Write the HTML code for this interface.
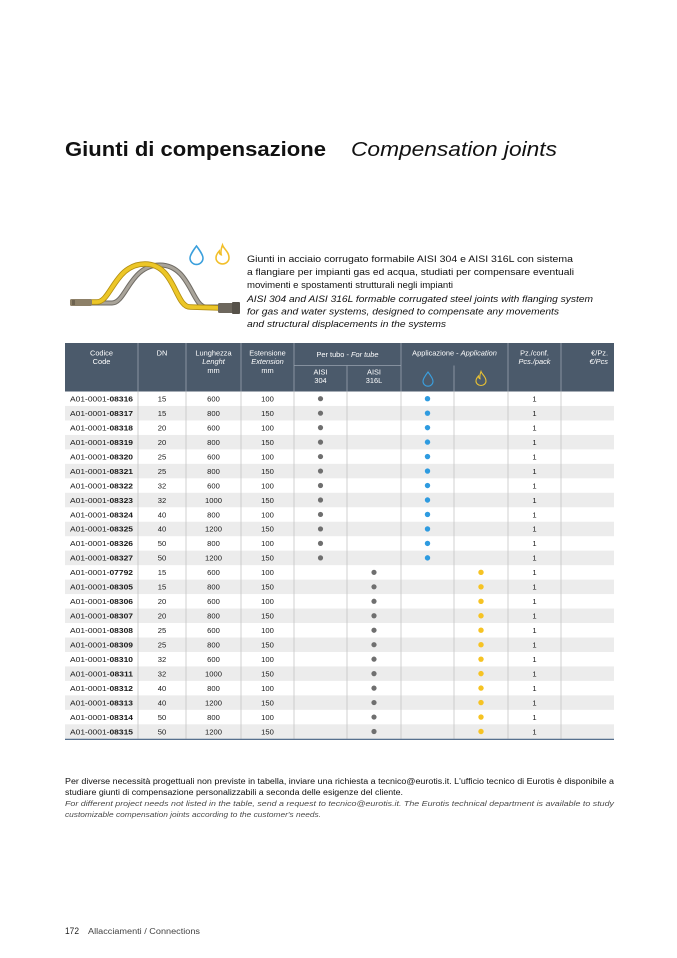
<!DOCTYPE html>
<html>
<head>
<meta charset="utf-8">
<style>
html,body{margin:0;padding:0;background:#fff;}
svg{display:block;}
.t{font-family:"Liberation Sans",sans-serif;}
.c{font-family:"Liberation Sans",sans-serif;font-size:7.6px;fill:#1a1a1a;}
.m{text-anchor:middle;}
.h{font-family:"Liberation Sans",sans-serif;font-size:7.4px;fill:#fff;text-anchor:middle;}
</style>
</head>
<body>
<svg width="677" height="958" viewBox="0 0 677 958" xmlns="http://www.w3.org/2000/svg">
<rect width="677" height="958" fill="#fff"/>

<!-- Title -->
<text class="t" x="65" y="156" font-size="20" font-weight="bold" fill="#111" textLength="261" lengthAdjust="spacingAndGlyphs">Giunti di compensazione</text>
<text class="t" x="351" y="156" font-size="20" font-style="italic" fill="#111" textLength="206" lengthAdjust="spacingAndGlyphs">Compensation joints</text>

<!-- Pipe illustration -->
<g fill="none" stroke-linecap="round">
  <path d="M92 303 L112 303 C126 303 130 265 160 265 C190 265 192 307 206 307 L222 307" stroke="#6f6b64" stroke-width="5"/>
  <path d="M92 303 L112 303 C126 303 130 265 160 265 C190 265 192 307 206 307 L222 307" stroke="#a9a49a" stroke-width="3"/>
  <path d="M88 302 L97 302 C111 302 115 264 145 264 C175 264 175 307 190 307 L220 308" stroke="#b38f12" stroke-width="5.5"/>
  <path d="M88 302 L97 302 C111 302 115 264 145 264 C175 264 175 307 190 307 L220 308" stroke="#ecc627" stroke-width="3.8"/>
</g>
<rect x="70" y="299" width="22" height="7" rx="1.5" fill="#8d8068"/>
<rect x="72" y="300" width="3" height="5" fill="#6e6350"/>
<rect x="218" y="303" width="22" height="10" rx="1.5" fill="#6d675d"/>
<rect x="232" y="302" width="8" height="12" rx="1" fill="#57524a"/>

<!-- Icons above pipe -->
<path transform="translate(190,246) scale(1.3,1.3)" d="M5 0 C5 0 0 6.5 0 9.2 A5 5 0 0 0 10 9.2 C10 6.5 5 0 5 0 Z" fill="none" stroke="#3a9fdc" stroke-width="1.2"/>
<path transform="translate(216,245) scale(1.3,1.35)" d="M5 0 C6 3 10 5 10 9.5 A5 4.5 0 0 1 0 9.5 C0 7 1.5 5.5 2.5 4.5 C2.5 6 3.2 7 4 7.2 C3.5 5 4 2.5 5 0 Z" fill="none" stroke="#f2bf2a" stroke-width="1.2"/>

<!-- Description -->
<g class="t" font-size="9.4" fill="#111">
<text x="247" y="262" textLength="326" lengthAdjust="spacingAndGlyphs">Giunti in acciaio corrugato formabile AISI 304 e AISI 316L con sistema</text>
<text x="247" y="275" textLength="327" lengthAdjust="spacingAndGlyphs">a flangiare per impianti gas ed acqua, studiati per compensare eventuali</text>
<text x="247" y="288" textLength="206" lengthAdjust="spacingAndGlyphs">movimenti e spostamenti strutturali negli impianti</text>
<text x="247" y="302" font-style="italic" textLength="346" lengthAdjust="spacingAndGlyphs">AISI 304 and AISI 316L formable corrugated steel joints with flanging system</text>
<text x="247" y="314.5" font-style="italic" textLength="312" lengthAdjust="spacingAndGlyphs">for gas and water systems, designed to compensate any movements</text>
<text x="247" y="327" font-style="italic" textLength="199" lengthAdjust="spacingAndGlyphs">and structural displacements in the systems</text>
</g>

<!-- Table header -->
<rect x="65" y="343" width="549" height="48.5" fill="#4b5a6b"/>
<g stroke="#98a3af" stroke-width="0.8">
  <line x1="138" y1="343" x2="138" y2="391.5"/>
  <line x1="186" y1="343" x2="186" y2="391.5"/>
  <line x1="241" y1="343" x2="241" y2="391.5"/>
  <line x1="294" y1="343" x2="294" y2="391.5"/>
  <line x1="401" y1="343" x2="401" y2="391.5"/>
  <line x1="508" y1="343" x2="508" y2="391.5"/>
  <line x1="561" y1="343" x2="561" y2="391.5"/>
  <line x1="294" y1="365.5" x2="401" y2="365.5"/>
  <line x1="347" y1="365.5" x2="347" y2="391.5"/>
  <line x1="454" y1="365.5" x2="454" y2="391.5"/>
</g>
<text class="h" x="101.5" y="355.5">Codice</text>
<text class="h" x="101.5" y="364">Code</text>
<text class="h" x="162" y="355.5">DN</text>
<text class="h" x="213.5" y="355.5">Lunghezza</text>
<text class="h" x="213.5" y="364" font-style="italic">Lenght</text>
<text class="h" x="213.5" y="373">mm</text>
<text class="h" x="267.5" y="355.5">Estensione</text>
<text class="h" x="267.5" y="364" font-style="italic">Extension</text>
<text class="h" x="267.5" y="373">mm</text>
<text class="h" x="347.5" y="357" font-size="6.8">Per tubo - <tspan font-style="italic">For tube</tspan></text>
<text class="h" x="320.5" y="374.5">AISI</text>
<text class="h" x="320.5" y="383">304</text>
<text class="h" x="374" y="374.5">AISI</text>
<text class="h" x="374" y="383">316L</text>
<text class="h" x="454.5" y="355.5">Applicazione - <tspan font-style="italic">Application</tspan></text>
<path transform="translate(423,372)" d="M5 0 C5 0 0 6.5 0 9.2 A5 5 0 0 0 10 9.2 C10 6.5 5 0 5 0 Z" fill="none" stroke="#3aa0e0" stroke-width="1.1"/>
<path transform="translate(476,371.5)" d="M5 0 C6 3 10 5 10 9.5 A5 4.5 0 0 1 0 9.5 C0 7 1.5 5.5 2.5 4.5 C2.5 6 3.2 7 4 7.2 C3.5 5 4 2.5 5 0 Z" fill="none" stroke="#e9c133" stroke-width="1.1"/>
<text class="h" x="534.5" y="355.5">Pz./conf.</text>
<text class="h" x="534.5" y="364" font-style="italic">Pcs./pack</text>
<text class="h" x="608" y="355.5" style="text-anchor:end">€/Pz.</text>
<text class="h" x="608" y="364" style="text-anchor:end" font-style="italic">€/Pcs</text>

<!-- Row backgrounds -->
<g fill="#ececec">
<rect x="65" y="405.97" width="549" height="14.47"/>
<rect x="65" y="434.91" width="549" height="14.47"/>
<rect x="65" y="463.85" width="549" height="14.47"/>
<rect x="65" y="492.79" width="549" height="14.47"/>
<rect x="65" y="521.73" width="549" height="14.47"/>
<rect x="65" y="550.67" width="549" height="14.47"/>
<rect x="65" y="579.61" width="549" height="14.47"/>
<rect x="65" y="608.55" width="549" height="14.47"/>
<rect x="65" y="637.49" width="549" height="14.47"/>
<rect x="65" y="666.43" width="549" height="14.47"/>
<rect x="65" y="695.37" width="549" height="14.47"/>
<rect x="65" y="724.31" width="549" height="14.47"/>
</g>
<!-- Body vertical lines -->
<g stroke="#c6c6c6" stroke-width="0.8">
  <line x1="138" y1="391.5" x2="138" y2="738.8"/>
  <line x1="186" y1="391.5" x2="186" y2="738.8"/>
  <line x1="241" y1="391.5" x2="241" y2="738.8"/>
  <line x1="294" y1="391.5" x2="294" y2="738.8"/>
  <line x1="347" y1="391.5" x2="347" y2="738.8"/>
  <line x1="401" y1="391.5" x2="401" y2="738.8"/>
  <line x1="454" y1="391.5" x2="454" y2="738.8"/>
  <line x1="508" y1="391.5" x2="508" y2="738.8"/>
  <line x1="561" y1="391.5" x2="561" y2="738.8"/>
</g>
<line x1="65" y1="739.3" x2="614" y2="739.3" stroke="#3f5b7e" stroke-width="1.1"/>

<!-- Rows: group A (AISI 304, water) -->
<g transform="translate(0,391.5)"><text class="c" x="70" y="10" textLength="63" lengthAdjust="spacingAndGlyphs">A01-0001-<tspan font-weight="bold">08316</tspan></text><text class="c m" x="162" y="10">15</text><text class="c m" x="213.5" y="10">600</text><text class="c m" x="267.5" y="10">100</text><circle cx="320.5" cy="7.2" r="2.6" fill="#6f6f6f"/><circle cx="427.5" cy="7.2" r="2.7" fill="#2e9be0"/><text class="c m" x="534.5" y="10">1</text></g>
<g transform="translate(0,405.97)"><text class="c" x="70" y="10" textLength="63" lengthAdjust="spacingAndGlyphs">A01-0001-<tspan font-weight="bold">08317</tspan></text><text class="c m" x="162" y="10">15</text><text class="c m" x="213.5" y="10">800</text><text class="c m" x="267.5" y="10">150</text><circle cx="320.5" cy="7.2" r="2.6" fill="#6f6f6f"/><circle cx="427.5" cy="7.2" r="2.7" fill="#2e9be0"/><text class="c m" x="534.5" y="10">1</text></g>
<g transform="translate(0,420.44)"><text class="c" x="70" y="10" textLength="63" lengthAdjust="spacingAndGlyphs">A01-0001-<tspan font-weight="bold">08318</tspan></text><text class="c m" x="162" y="10">20</text><text class="c m" x="213.5" y="10">600</text><text class="c m" x="267.5" y="10">100</text><circle cx="320.5" cy="7.2" r="2.6" fill="#6f6f6f"/><circle cx="427.5" cy="7.2" r="2.7" fill="#2e9be0"/><text class="c m" x="534.5" y="10">1</text></g>
<g transform="translate(0,434.91)"><text class="c" x="70" y="10" textLength="63" lengthAdjust="spacingAndGlyphs">A01-0001-<tspan font-weight="bold">08319</tspan></text><text class="c m" x="162" y="10">20</text><text class="c m" x="213.5" y="10">800</text><text class="c m" x="267.5" y="10">150</text><circle cx="320.5" cy="7.2" r="2.6" fill="#6f6f6f"/><circle cx="427.5" cy="7.2" r="2.7" fill="#2e9be0"/><text class="c m" x="534.5" y="10">1</text></g>
<g transform="translate(0,449.38)"><text class="c" x="70" y="10" textLength="63" lengthAdjust="spacingAndGlyphs">A01-0001-<tspan font-weight="bold">08320</tspan></text><text class="c m" x="162" y="10">25</text><text class="c m" x="213.5" y="10">600</text><text class="c m" x="267.5" y="10">100</text><circle cx="320.5" cy="7.2" r="2.6" fill="#6f6f6f"/><circle cx="427.5" cy="7.2" r="2.7" fill="#2e9be0"/><text class="c m" x="534.5" y="10">1</text></g>
<g transform="translate(0,463.85)"><text class="c" x="70" y="10" textLength="63" lengthAdjust="spacingAndGlyphs">A01-0001-<tspan font-weight="bold">08321</tspan></text><text class="c m" x="162" y="10">25</text><text class="c m" x="213.5" y="10">800</text><text class="c m" x="267.5" y="10">150</text><circle cx="320.5" cy="7.2" r="2.6" fill="#6f6f6f"/><circle cx="427.5" cy="7.2" r="2.7" fill="#2e9be0"/><text class="c m" x="534.5" y="10">1</text></g>
<g transform="translate(0,478.32)"><text class="c" x="70" y="10" textLength="63" lengthAdjust="spacingAndGlyphs">A01-0001-<tspan font-weight="bold">08322</tspan></text><text class="c m" x="162" y="10">32</text><text class="c m" x="213.5" y="10">600</text><text class="c m" x="267.5" y="10">100</text><circle cx="320.5" cy="7.2" r="2.6" fill="#6f6f6f"/><circle cx="427.5" cy="7.2" r="2.7" fill="#2e9be0"/><text class="c m" x="534.5" y="10">1</text></g>
<g transform="translate(0,492.79)"><text class="c" x="70" y="10" textLength="63" lengthAdjust="spacingAndGlyphs">A01-0001-<tspan font-weight="bold">08323</tspan></text><text class="c m" x="162" y="10">32</text><text class="c m" x="213.5" y="10">1000</text><text class="c m" x="267.5" y="10">150</text><circle cx="320.5" cy="7.2" r="2.6" fill="#6f6f6f"/><circle cx="427.5" cy="7.2" r="2.7" fill="#2e9be0"/><text class="c m" x="534.5" y="10">1</text></g>
<g transform="translate(0,507.26)"><text class="c" x="70" y="10" textLength="63" lengthAdjust="spacingAndGlyphs">A01-0001-<tspan font-weight="bold">08324</tspan></text><text class="c m" x="162" y="10">40</text><text class="c m" x="213.5" y="10">800</text><text class="c m" x="267.5" y="10">100</text><circle cx="320.5" cy="7.2" r="2.6" fill="#6f6f6f"/><circle cx="427.5" cy="7.2" r="2.7" fill="#2e9be0"/><text class="c m" x="534.5" y="10">1</text></g>
<g transform="translate(0,521.73)"><text class="c" x="70" y="10" textLength="63" lengthAdjust="spacingAndGlyphs">A01-0001-<tspan font-weight="bold">08325</tspan></text><text class="c m" x="162" y="10">40</text><text class="c m" x="213.5" y="10">1200</text><text class="c m" x="267.5" y="10">150</text><circle cx="320.5" cy="7.2" r="2.6" fill="#6f6f6f"/><circle cx="427.5" cy="7.2" r="2.7" fill="#2e9be0"/><text class="c m" x="534.5" y="10">1</text></g>
<g transform="translate(0,536.2)"><text class="c" x="70" y="10" textLength="63" lengthAdjust="spacingAndGlyphs">A01-0001-<tspan font-weight="bold">08326</tspan></text><text class="c m" x="162" y="10">50</text><text class="c m" x="213.5" y="10">800</text><text class="c m" x="267.5" y="10">100</text><circle cx="320.5" cy="7.2" r="2.6" fill="#6f6f6f"/><circle cx="427.5" cy="7.2" r="2.7" fill="#2e9be0"/><text class="c m" x="534.5" y="10">1</text></g>
<g transform="translate(0,550.67)"><text class="c" x="70" y="10" textLength="63" lengthAdjust="spacingAndGlyphs">A01-0001-<tspan font-weight="bold">08327</tspan></text><text class="c m" x="162" y="10">50</text><text class="c m" x="213.5" y="10">1200</text><text class="c m" x="267.5" y="10">150</text><circle cx="320.5" cy="7.2" r="2.6" fill="#6f6f6f"/><circle cx="427.5" cy="7.2" r="2.7" fill="#2e9be0"/><text class="c m" x="534.5" y="10">1</text></g>

<!-- Rows: group B (AISI 316L, gas) -->
<g transform="translate(0,565.14)"><text class="c" x="70" y="10" textLength="63" lengthAdjust="spacingAndGlyphs">A01-0001-<tspan font-weight="bold">07792</tspan></text><text class="c m" x="162" y="10">15</text><text class="c m" x="213.5" y="10">600</text><text class="c m" x="267.5" y="10">100</text><circle cx="374" cy="7.2" r="2.6" fill="#6f6f6f"/><circle cx="481" cy="7.2" r="2.7" fill="#f6c323"/><text class="c m" x="534.5" y="10">1</text></g>
<g transform="translate(0,579.61)"><text class="c" x="70" y="10" textLength="63" lengthAdjust="spacingAndGlyphs">A01-0001-<tspan font-weight="bold">08305</tspan></text><text class="c m" x="162" y="10">15</text><text class="c m" x="213.5" y="10">800</text><text class="c m" x="267.5" y="10">150</text><circle cx="374" cy="7.2" r="2.6" fill="#6f6f6f"/><circle cx="481" cy="7.2" r="2.7" fill="#f6c323"/><text class="c m" x="534.5" y="10">1</text></g>
<g transform="translate(0,594.08)"><text class="c" x="70" y="10" textLength="63" lengthAdjust="spacingAndGlyphs">A01-0001-<tspan font-weight="bold">08306</tspan></text><text class="c m" x="162" y="10">20</text><text class="c m" x="213.5" y="10">600</text><text class="c m" x="267.5" y="10">100</text><circle cx="374" cy="7.2" r="2.6" fill="#6f6f6f"/><circle cx="481" cy="7.2" r="2.7" fill="#f6c323"/><text class="c m" x="534.5" y="10">1</text></g>
<g transform="translate(0,608.55)"><text class="c" x="70" y="10" textLength="63" lengthAdjust="spacingAndGlyphs">A01-0001-<tspan font-weight="bold">08307</tspan></text><text class="c m" x="162" y="10">20</text><text class="c m" x="213.5" y="10">800</text><text class="c m" x="267.5" y="10">150</text><circle cx="374" cy="7.2" r="2.6" fill="#6f6f6f"/><circle cx="481" cy="7.2" r="2.7" fill="#f6c323"/><text class="c m" x="534.5" y="10">1</text></g>
<g transform="translate(0,623.02)"><text class="c" x="70" y="10" textLength="63" lengthAdjust="spacingAndGlyphs">A01-0001-<tspan font-weight="bold">08308</tspan></text><text class="c m" x="162" y="10">25</text><text class="c m" x="213.5" y="10">600</text><text class="c m" x="267.5" y="10">100</text><circle cx="374" cy="7.2" r="2.6" fill="#6f6f6f"/><circle cx="481" cy="7.2" r="2.7" fill="#f6c323"/><text class="c m" x="534.5" y="10">1</text></g>
<g transform="translate(0,637.49)"><text class="c" x="70" y="10" textLength="63" lengthAdjust="spacingAndGlyphs">A01-0001-<tspan font-weight="bold">08309</tspan></text><text class="c m" x="162" y="10">25</text><text class="c m" x="213.5" y="10">800</text><text class="c m" x="267.5" y="10">150</text><circle cx="374" cy="7.2" r="2.6" fill="#6f6f6f"/><circle cx="481" cy="7.2" r="2.7" fill="#f6c323"/><text class="c m" x="534.5" y="10">1</text></g>
<g transform="translate(0,651.96)"><text class="c" x="70" y="10" textLength="63" lengthAdjust="spacingAndGlyphs">A01-0001-<tspan font-weight="bold">08310</tspan></text><text class="c m" x="162" y="10">32</text><text class="c m" x="213.5" y="10">600</text><text class="c m" x="267.5" y="10">100</text><circle cx="374" cy="7.2" r="2.6" fill="#6f6f6f"/><circle cx="481" cy="7.2" r="2.7" fill="#f6c323"/><text class="c m" x="534.5" y="10">1</text></g>
<g transform="translate(0,666.43)"><text class="c" x="70" y="10" textLength="63" lengthAdjust="spacingAndGlyphs">A01-0001-<tspan font-weight="bold">08311</tspan></text><text class="c m" x="162" y="10">32</text><text class="c m" x="213.5" y="10">1000</text><text class="c m" x="267.5" y="10">150</text><circle cx="374" cy="7.2" r="2.6" fill="#6f6f6f"/><circle cx="481" cy="7.2" r="2.7" fill="#f6c323"/><text class="c m" x="534.5" y="10">1</text></g>
<g transform="translate(0,680.9)"><text class="c" x="70" y="10" textLength="63" lengthAdjust="spacingAndGlyphs">A01-0001-<tspan font-weight="bold">08312</tspan></text><text class="c m" x="162" y="10">40</text><text class="c m" x="213.5" y="10">800</text><text class="c m" x="267.5" y="10">100</text><circle cx="374" cy="7.2" r="2.6" fill="#6f6f6f"/><circle cx="481" cy="7.2" r="2.7" fill="#f6c323"/><text class="c m" x="534.5" y="10">1</text></g>
<g transform="translate(0,695.37)"><text class="c" x="70" y="10" textLength="63" lengthAdjust="spacingAndGlyphs">A01-0001-<tspan font-weight="bold">08313</tspan></text><text class="c m" x="162" y="10">40</text><text class="c m" x="213.5" y="10">1200</text><text class="c m" x="267.5" y="10">150</text><circle cx="374" cy="7.2" r="2.6" fill="#6f6f6f"/><circle cx="481" cy="7.2" r="2.7" fill="#f6c323"/><text class="c m" x="534.5" y="10">1</text></g>
<g transform="translate(0,709.84)"><text class="c" x="70" y="10" textLength="63" lengthAdjust="spacingAndGlyphs">A01-0001-<tspan font-weight="bold">08314</tspan></text><text class="c m" x="162" y="10">50</text><text class="c m" x="213.5" y="10">800</text><text class="c m" x="267.5" y="10">100</text><circle cx="374" cy="7.2" r="2.6" fill="#6f6f6f"/><circle cx="481" cy="7.2" r="2.7" fill="#f6c323"/><text class="c m" x="534.5" y="10">1</text></g>
<g transform="translate(0,724.31)"><text class="c" x="70" y="10" textLength="63" lengthAdjust="spacingAndGlyphs">A01-0001-<tspan font-weight="bold">08315</tspan></text><text class="c m" x="162" y="10">50</text><text class="c m" x="213.5" y="10">1200</text><text class="c m" x="267.5" y="10">150</text><circle cx="374" cy="7.2" r="2.6" fill="#6f6f6f"/><circle cx="481" cy="7.2" r="2.7" fill="#f6c323"/><text class="c m" x="534.5" y="10">1</text></g>

<!-- Footer note -->
<g class="t">
<text x="65" y="784" font-size="7.8" fill="#111" textLength="549" lengthAdjust="spacingAndGlyphs">Per diverse necessità progettuali non previste in tabella, inviare una richiesta a tecnico@eurotis.it. L'ufficio tecnico di Eurotis è disponibile a</text>
<text x="65" y="795" font-size="7.8" fill="#111" textLength="338" lengthAdjust="spacingAndGlyphs">studiare giunti di compensazione personalizzabili a seconda delle esigenze del cliente.</text>
<text x="65" y="806" font-size="7.5" font-style="italic" fill="#4a4a4a" textLength="549" lengthAdjust="spacingAndGlyphs">For different project needs not listed in the table, send a request to tecnico@eurotis.it. The Eurotis technical department is available to study</text>
<text x="65" y="817" font-size="7.5" font-style="italic" fill="#4a4a4a" textLength="256" lengthAdjust="spacingAndGlyphs">customizable compensation joints according to the customer's needs.</text>
</g>

<!-- Page footer -->
<text class="t" x="65" y="934" font-size="9.5" fill="#222" textLength="14" lengthAdjust="spacingAndGlyphs">172</text>
<text class="t" x="88" y="934" font-size="7.8" fill="#444" textLength="112" lengthAdjust="spacingAndGlyphs">Allacciamenti / Connections</text>
</svg>
</body>
</html>
